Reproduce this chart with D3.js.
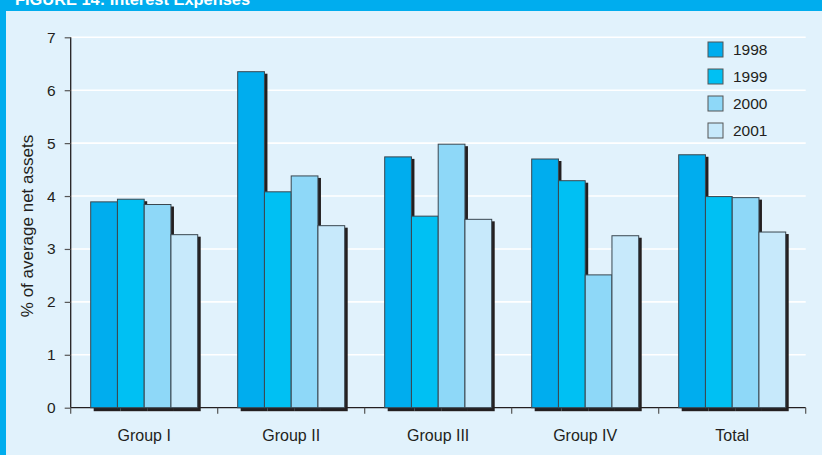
<!DOCTYPE html>
<html>
<head>
<meta charset="utf-8">
<script src="https://cdn.jsdelivr.net/npm/d3@7"></script>
<style>
  html, body { margin: 0; padding: 0; background: #e1f2fc; }
  svg { display: block; }
  text { font-family: "Liberation Sans", Arial, Helvetica, sans-serif; fill: #231f20; }
</style>
</head>
<body>
<svg id="chart" width="822" height="455"></svg>
<script>
// Interest expenses as % of average net assets, by group and year
const groups = ["Group I", "Group II", "Group III", "Group IV", "Total"];
const years = ["1998", "1999", "2000", "2001"];
const values1998 = [3.89, 6.35, 4.74, 4.70, 4.78];
const values1999 = [3.94, 4.08, 3.62, 4.29, 3.99];
const values2000 = [3.84, 4.38, 4.98, 2.51, 3.97];
const values2001 = [3.27, 3.44, 3.56, 3.25, 3.32];
const yTicks = [0, 1, 2, 3, 4, 5, 6, 7];
const titleText = "FIGURE 14: Interest Expenses";
const yTitle = "% of average net assets";

const seriesValues = [values1998, values1999, values2000, values2001];
const colors = ["#00adee", "#00c0f3", "#8ed8f8", "#c7e9fb"];

const rows = [];
groups.forEach((g, gi) => {
  years.forEach((yr, yi) => rows.push({ group: g, year: yr, value: seriesValues[yi][gi], color: colors[yi] }));
});

const svg = d3.select("#chart");
const W = 822, H = 455;

// panel frame: background, top banner and left rule
svg.append("rect").attr("width", W).attr("height", H).attr("fill", "#e1f2fc");
svg.append("rect").attr("x", 0).attr("y", 0).attr("width", W).attr("height", 11).attr("fill", "#00adee");
svg.append("rect").attr("x", 0).attr("y", 0).attr("width", 6).attr("height", H).attr("fill", "#00adee");
svg.append("text").attr("x", 15).attr("y", 5)
  .style("font-weight", "bold").style("font-size", "16.4px").style("fill", "#ffffff")
  .text(titleText);

const plotLeft = 70.7, plotRight = 805.7, plotTop = 37.3, plotBottom = 407.7;

const y = d3.scaleLinear().domain([0, 7]).range([plotBottom, plotTop]);
const x0 = d3.scaleBand().domain(groups).range([plotLeft, plotRight]).paddingInner(0.272).paddingOuter(0.136);
const x1 = d3.scaleBand().domain(years).range([0, x0.bandwidth()]);

// white gridlines
svg.append("g").selectAll("line").data(yTicks.filter(t => t > 0)).join("line")
  .attr("x1", plotLeft).attr("x2", plotRight)
  .attr("y1", d => y(d)).attr("y2", d => y(d))
  .attr("stroke", "#ffffff").attr("stroke-width", 1.6);

// y axis
const yAxis = svg.append("g").attr("transform", `translate(${plotLeft},0)`)
  .call(d3.axisLeft(y).tickValues(yTicks).tickSize(6).tickPadding(9).tickFormat(d3.format("d")));
yAxis.select(".domain").attr("stroke", "#231f20").attr("stroke-width", 1.3)
  .attr("d", `M0,${plotTop}V${plotBottom}`);
yAxis.selectAll(".tick line").attr("stroke", "#555").attr("stroke-width", 1.2);
yAxis.selectAll(".tick text").style("font-size", "15.5px").style("font-family", "'Liberation Sans', Arial, sans-serif").attr("fill", "#231f20");

// x axis line with ticks at group boundaries
const xg = svg.append("g");
xg.append("line").attr("x1", plotLeft).attr("x2", plotRight).attr("y1", plotBottom).attr("y2", plotBottom)
  .attr("stroke", "#231f20").attr("stroke-width", 1.3);
const boundaries = groups.map(g => x0(g) - x0.step() * x0.paddingOuter()).concat([plotRight]);
xg.selectAll("line.bt").data(boundaries).join("line").attr("class", "bt")
  .attr("x1", d => d).attr("x2", d => d).attr("y1", plotBottom).attr("y2", plotBottom + 6)
  .attr("stroke", "#555").attr("stroke-width", 1.2);
xg.selectAll("text").data(groups).join("text")
  .attr("x", d => x0(d) + x0.bandwidth() / 2).attr("y", 441)
  .attr("text-anchor", "middle").style("font-size", "16px").text(d => d);

// bar shadows, then bars
svg.append("g").selectAll("rect").data(rows).join("rect")
  .attr("x", d => x0(d.group) + x1(d.year) + 3)
  .attr("y", d => y(d.value) + 2)
  .attr("width", x1.bandwidth())
  .attr("height", d => plotBottom - y(d.value) + 1.5)
  .attr("fill", "#231f20");

svg.append("g").selectAll("rect").data(rows).join("rect")
  .attr("x", d => x0(d.group) + x1(d.year))
  .attr("y", d => y(d.value))
  .attr("width", x1.bandwidth())
  .attr("height", d => plotBottom - y(d.value))
  .attr("fill", d => d.color)
  .attr("stroke", "#3a4750").attr("stroke-width", 1);

// y axis title
svg.append("text")
  .attr("transform", "translate(33,226) rotate(-90)")
  .attr("text-anchor", "middle").style("font-size", "17px")
  .text(yTitle);

// legend
const legend = svg.append("g").attr("transform", "translate(708,42)");
const li = legend.selectAll("g").data(years).join("g")
  .attr("transform", (d, i) => `translate(0,${i * 27})`);
li.append("rect").attr("width", 15).attr("height", 15)
  .attr("fill", (d, i) => colors[i]).attr("stroke", "#555").attr("stroke-width", 1);
li.append("text").attr("x", 25).attr("y", 13).style("font-size", "15.5px").text(d => d);
</script>
</body>
</html>
